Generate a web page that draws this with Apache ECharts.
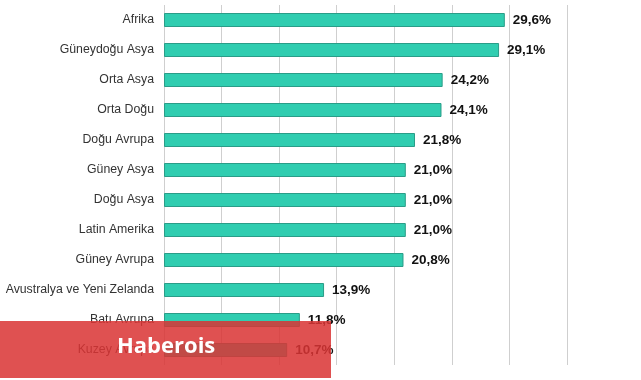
<!DOCTYPE html>
<html>
<head>
<meta charset="utf-8">
<script src="https://cdn.jsdelivr.net/npm/echarts@6/dist/echarts.min.js"></script>
<style>
html,body{margin:0;padding:0;background:#fff;}
#chart{width:641px;height:380px;}
</style>
</head>
<body>
<div id="chart"></div>
<script>
var categories = ['Afrika','Güneydoğu Asya','Orta Asya','Orta Doğu','Doğu Avrupa','Güney Asya','Doğu Asya','Latin Amerika','Güney Avrupa','Avustralya ve Yeni Zelanda','Batı Avrupa','Kuzey Avrupa'];
var values = [29.6, 29.1, 24.2, 24.1, 21.8, 21.0, 21.0, 21.0, 20.8, 13.9, 11.8, 10.7];
var watermarkText = 'Haberois';

var chart = echarts.init(document.getElementById('chart'), null, {renderer:'canvas'});
chart.setOption({
  animation:false,
  grid:{left:164, right:74, top:5, bottom:15, containLabel:false},
  xAxis:{
    type:'value', min:0, max:35, interval:5,
    axisLabel:{show:false}, axisLine:{show:false}, axisTick:{show:false},
    splitLine:{show:true, lineStyle:{color:'#cfcfcf', width:1}}
  },
  yAxis:{
    type:'category', data:categories, inverse:true,
    axisLine:{show:false}, axisTick:{show:false},
    axisLabel:{color:'#333', fontSize:12.3, fontFamily:'Liberation Sans, Arial, sans-serif', margin:10}
  },
  series:[{
    type:'bar', data:values, barWidth:14,
    itemStyle:{color:'#30cdb0', borderColor:'#2a9d88', borderWidth:1},
    label:{
      show:true, position:'right', distance:8,
      color:'#111', fontSize:13.5, fontWeight:'bold', fontFamily:'Liberation Sans, Arial, sans-serif',
      formatter:function(p){ return p.value.toFixed(1).replace('.', ',') + '%'; }
    }
  }],
  graphic:[
    {type:'rect', left:0, top:321, z:100, shape:{width:331, height:57},
      style:{fill:'rgba(218,52,52,0.86)'}},
    {type:'text', left:117, top:336, z:101,
      style:{text:watermarkText, fill:'#fff', font:'bold 22px "Open Sans", Arial, sans-serif'}}
  ]
});
</script>
</body>
</html>
